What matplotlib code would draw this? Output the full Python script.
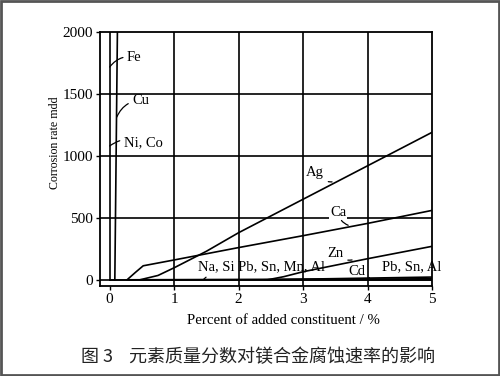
import matplotlib
matplotlib.use("Agg")
import matplotlib.pyplot as plt
from matplotlib.patches import Rectangle

# ---- data ----
fe_x = [0.0, 0.0]
fe_y = [0, 2000]
cu_x = [0.08, 0.12]
cu_y = [0, 2000]
ag_x = [0.47, 0.75, 1.0, 1.5, 2.0, 2.5, 3.0, 3.5, 4.0, 4.5, 5.0]
ag_y = [0, 35, 97, 230, 380, 515, 650, 785, 920, 1055, 1190]
ca_x = [0.27, 0.4, 0.52, 1.0, 2.0, 3.0, 4.0, 5.0]
ca_y = [0, 60, 113, 160, 260, 356, 455, 560]
zn_x = [2.45, 2.7, 3.0, 4.0, 5.0]
zn_y = [0, 25, 65, 170, 270]
cd_x = [2.4, 5.0]
cd_y = [0, 22]
pb_x = [0.3, 5.0]
pb_y = [0, 8]
na_x = [0.0, 5.0]
na_y = [0, 0]

xticks = [0, 1, 2, 3, 4, 5]
yticks = [0, 500, 1000, 1500, 2000]

serif = "Liberation Serif"

fig = plt.figure(figsize=(5.0, 3.76), dpi=100)
ax = fig.add_axes([0.2, 0.2394, 0.664, 0.6755])
ax.set_xlim(-0.15, 5.0)
ax.set_ylim(-50, 2000)

lw = 1.2
for yv in [0, 500, 1000, 1500]:
    ax.axhline(yv, color="black", lw=lw, zorder=1)
for xv in [1, 2, 3, 4]:
    ax.axvline(xv, color="black", lw=lw, zorder=1)

for xs, ys in [(fe_x, fe_y), (cu_x, cu_y), (ag_x, ag_y), (ca_x, ca_y),
               (zn_x, zn_y), (cd_x, cd_y), (pb_x, pb_y), (na_x, na_y)]:
    ax.plot(xs, ys, color="black", lw=lw, zorder=2, clip_on=True)

for s in ax.spines.values():
    s.set_linewidth(1.3)

ax.set_xticks(xticks)
ax.set_yticks(yticks)
ax.set_xticklabels([str(v) for v in xticks], fontfamily=serif, fontsize=11)
ax.set_yticklabels([str(v) for v in yticks], fontfamily=serif, fontsize=11)
ax.tick_params(direction="out", length=3, width=1, pad=2, colors="black")

fs = 10.5
def lab(text, xy, xytext, ha="left", bbox=False):
    kw = {}
    if bbox:
        kw["bbox"] = dict(boxstyle="square,pad=0.05", fc="white", ec="none")
    ax.annotate(text, xy=xy, xytext=xytext, fontfamily=serif, fontsize=fs,
                ha=ha, va="center", zorder=4,
                arrowprops=dict(arrowstyle="-", color="black", lw=0.9,
                                shrinkA=1, shrinkB=0,
                                connectionstyle="arc3,rad=0.3"), **kw)

lab("Fe", (0.0, 1717), (0.27, 1798))
lab("Cu", (0.11, 1313), (0.35, 1451))
lab("Ni, Co", (0.0, 1080), (0.22, 1104))
lab("Ag", (3.45, 790), (3.05, 869))
lab("Ca", (3.7, 440), (3.42, 546), bbox=True)
lab("Zn", (3.76, 160), (3.38, 216))
lab("Cd", (4.03, 18), (3.7, 63))
ax.text(4.22, 103, "Pb, Sn, Al", fontfamily=serif, fontsize=fs, ha="left",
        va="center", zorder=4)
lab("Na, Si Pb, Sn, Mn, Al", (1.45, 0), (1.37, 103))

fig.text(55 / 500, 1 - 143 / 376, "Corrosion rate mdd", rotation=90,
         fontfamily=serif, fontsize=8.6, ha="center", va="center")
fig.text(283 / 500, 1 - 320 / 376, "Percent of added constituent / %",
         fontfamily=serif, fontsize=10.7, ha="center", va="center")
fig.text(258 / 500, 1 - 357 / 376, "图 3    元素质量分数对镁合金腐蚀速率的影响",
         fontfamily=["Noto Sans CJK SC", "DejaVu Sans"], fontsize=13,
         fontweight="medium", ha="center", va="center", color="#222222")

fig.patches.append(Rectangle((0.002, 0.003), 0.996, 0.994, transform=fig.transFigure,
                             fill=False, ec="#555555", lw=2))

fig.savefig("out.png", dpi=100)
